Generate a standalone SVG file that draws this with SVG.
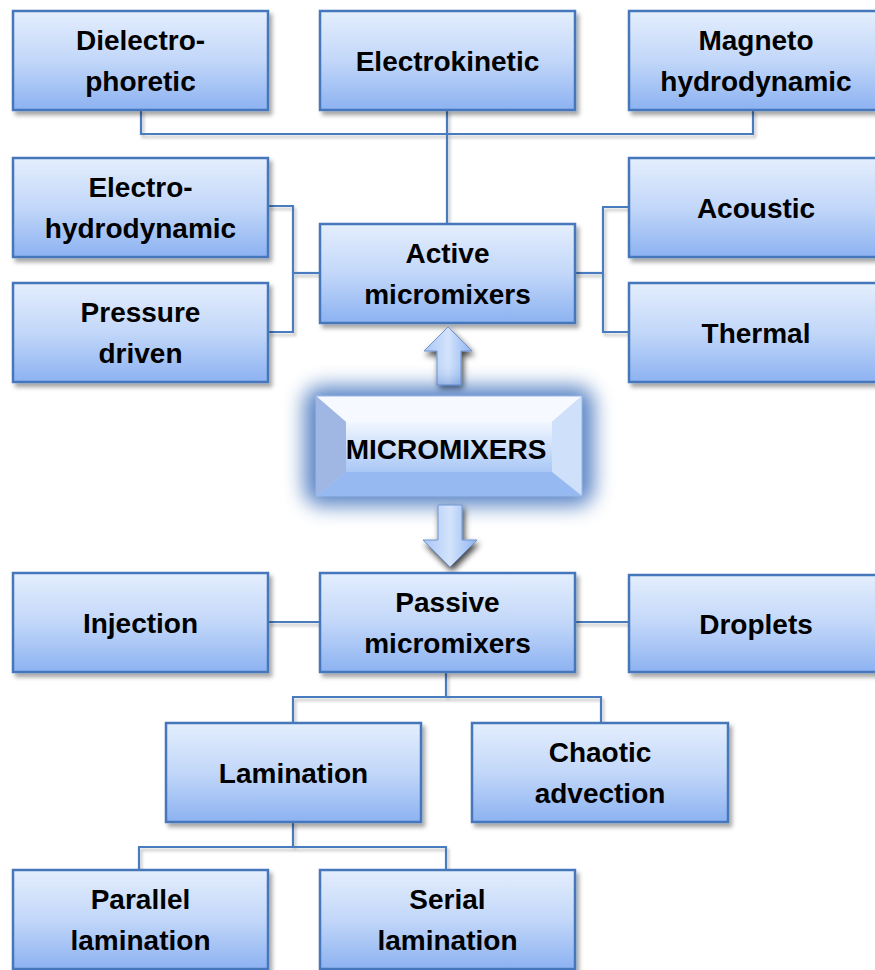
<svg xmlns="http://www.w3.org/2000/svg" width="875" height="970" viewBox="0 0 875 970">
<defs>
<linearGradient id="boxg" x1="0" y1="0" x2="0" y2="1">
<stop offset="0" stop-color="#e4eefd"/>
<stop offset="0.5" stop-color="#c2d7f9"/>
<stop offset="1" stop-color="#8cb2f1"/>
</linearGradient>
<linearGradient id="faceg" x1="0" y1="0" x2="0" y2="1">
<stop offset="0" stop-color="#f2f7ff"/>
<stop offset="1" stop-color="#a9c7f6"/>
</linearGradient>
<linearGradient id="arrg" x1="0" y1="0" x2="1" y2="0">
<stop offset="0" stop-color="#a9c6f6"/>
<stop offset="0.5" stop-color="#d3e3fb"/>
<stop offset="1" stop-color="#8fb4f1"/>
</linearGradient>
<filter id="sh" x="-10%" y="-10%" width="130%" height="140%">
<feDropShadow dx="3" dy="4" stdDeviation="2" flood-color="#000" flood-opacity="0.35"/>
</filter>
<filter id="lsh" x="-10%" y="-50%" width="120%" height="200%">
<feDropShadow dx="2" dy="3" stdDeviation="1.5" flood-color="#000" flood-opacity="0.25"/>
</filter>
<filter id="ash" x="-50%" y="-30%" width="200%" height="170%">
<feDropShadow dx="2" dy="4" stdDeviation="3" flood-color="#000" flood-opacity="0.75"/>
</filter>
<filter id="glow" x="-30%" y="-60%" width="160%" height="220%">
<feGaussianBlur stdDeviation="10"/>
</filter>
</defs>
<style>
.box{fill:url(#boxg);stroke:#4577ba;stroke-width:2.5;filter:url(#sh)}
.t{font-family:"Liberation Sans",Arial,sans-serif;font-weight:bold;font-size:28px;fill:#000;text-anchor:middle}
.c{fill:none;stroke:#4a7cbf;stroke-width:2.2}
.arr{fill:url(#arrg);stroke:#6f95d0;stroke-width:1;filter:url(#ash)}
</style>
<rect width="875" height="970" fill="#fff"/>

<g id="connectors" filter="url(#lsh)">
<polyline class="c" points="141,110 141,134 753,134 753,110"/>
<line class="c" x1="447" y1="110" x2="447" y2="224"/>
<polyline class="c" points="268,206 293,206 293,332 268,332"/>
<line class="c" x1="293" y1="273" x2="320" y2="273"/>
<polyline class="c" points="629,207 603,207 603,332 629,332"/>
<line class="c" x1="575" y1="273" x2="603" y2="273"/>
<line class="c" x1="268" y1="622" x2="320" y2="622"/>
<line class="c" x1="575" y1="622" x2="629" y2="622"/>
<line class="c" x1="446" y1="672" x2="446" y2="697"/>
<polyline class="c" points="293,723 293,697 601,697 601,723"/>
<line class="c" x1="293" y1="822" x2="293" y2="847"/>
<polyline class="c" points="139,870 139,847 446,847 446,870"/>
</g>

<g id="dielectrophoretic"><rect class="box" x="13" y="11" width="255" height="99"/><text class="t" x="140.5" y="50">Dielectro-</text><text class="t" x="140.5" y="91">phoretic</text></g>
<g id="electrokinetic"><rect class="box" x="320" y="11" width="255" height="99"/><text class="t" x="447.5" y="71">Electrokinetic</text></g>
<g id="magnetohydrodynamic"><rect class="box" x="629" y="11" width="255" height="99"/><text class="t" x="756" y="50">Magneto</text><text class="t" x="756" y="91">hydrodynamic</text></g>

<g id="electrohydrodynamic"><rect class="box" x="13" y="158" width="255" height="99"/><text class="t" x="140.5" y="197">Electro-</text><text class="t" x="140.5" y="238">hydrodynamic</text></g>
<g id="pressuredriven"><rect class="box" x="13" y="283" width="255" height="99"/><text class="t" x="140.5" y="322">Pressure</text><text class="t" x="140.5" y="363">driven</text></g>
<g id="active"><rect class="box" x="320" y="224" width="255" height="99"/><text class="t" x="447.5" y="263">Active</text><text class="t" x="447.5" y="304">micromixers</text></g>
<g id="acoustic"><rect class="box" x="629" y="158" width="255" height="99"/><text class="t" x="756" y="218">Acoustic</text></g>
<g id="thermal"><rect class="box" x="629" y="283" width="255" height="99"/><text class="t" x="756" y="343">Thermal</text></g>

<g id="arrow-up"><path class="arr" d="M448,327 L472,351 L461,351 L461,385 L437,385 L437,351 L424,351 Z"/></g>

<g id="micromixers">
<rect x="304" y="386" width="290" height="120" rx="18" fill="#4a78c0" opacity="0.9" filter="url(#glow)"/>
<rect x="316" y="396" width="266" height="100" fill="#b9d0f5"/>
<polygon points="316,396 582,396 552,422 346,422" fill="#f6f9ff"/>
<polygon points="316,396 346,422 346,472 316,496" fill="#9fb7e2"/>
<polygon points="582,396 552,422 552,472 582,496" fill="#cfe0fa"/>
<polygon points="316,496 346,472 552,472 582,496" fill="#96b9f1"/>
<rect x="346" y="422" width="206" height="50" fill="url(#faceg)"/>
<rect x="316" y="396" width="266" height="100" fill="none" stroke="#9ab8ea" stroke-width="1"/>
<text class="t" x="446" y="459">MICROMIXERS</text>
</g>

<g id="arrow-down"><path class="arr" d="M438,505 L462,505 L462,540 L477,540 L450,567 L423,540 L438,540 Z"/></g>

<g id="injection"><rect class="box" x="13" y="573" width="255" height="99"/><text class="t" x="140.5" y="633">Injection</text></g>
<g id="passive"><rect class="box" x="320" y="573" width="255" height="99"/><text class="t" x="447.5" y="612">Passive</text><text class="t" x="447.5" y="653">micromixers</text></g>
<g id="droplets"><rect class="box" x="629" y="575" width="255" height="97"/><text class="t" x="756" y="634">Droplets</text></g>

<g id="lamination"><rect class="box" x="166" y="723" width="255" height="99"/><text class="t" x="293.5" y="783">Lamination</text></g>
<g id="chaotic"><rect class="box" x="472" y="723" width="256" height="99"/><text class="t" x="600" y="762">Chaotic</text><text class="t" x="600" y="803">advection</text></g>

<g id="parallel"><rect class="box" x="13" y="870" width="255" height="99"/><text class="t" x="140.5" y="909">Parallel</text><text class="t" x="140.5" y="950">lamination</text></g>
<g id="serial"><rect class="box" x="320" y="870" width="255" height="99"/><text class="t" x="447.5" y="909">Serial</text><text class="t" x="447.5" y="950">lamination</text></g>
</svg>
